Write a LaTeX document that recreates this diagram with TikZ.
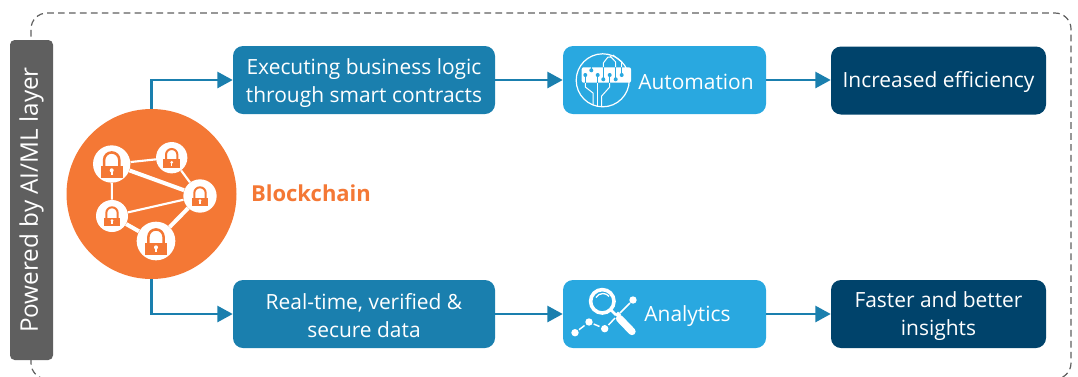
\documentclass[tikz,border=0pt]{standalone}
\usepackage{fontspec}
\setmainfont{Open Sans}
\usetikzlibrary{arrows.meta,calc}
\definecolor{teal}{HTML}{1A7FAE}
\definecolor{sky}{HTML}{29A8E0}
\definecolor{navy}{HTML}{00436B}
\definecolor{orng}{HTML}{F47835}
\definecolor{slate}{HTML}{5F5F5F}
\newcommand{\lockw}{1.9pt}
\tikzset{
  x=0.75pt,y=-0.75pt,
  lockwidth/.store in=\lockw,
  flowbox/.style={rounded corners=7.5pt,minimum height=51pt,inner sep=0pt},
  tealbox/.style={flowbox,fill=teal,minimum width=196.5pt},
  skybox/.style={flowbox,fill=sky,minimum width=152.25pt},
  navybox/.style={flowbox,fill=navy,minimum width=161.25pt},
  iconlabel/.style={inner sep=0pt,text=white,align=center,font=\fontsize{15.7}{21}\selectfont},
  flow/.style={draw=teal,line width=1.9pt,-{Triangle[length=11.5pt,width=12pt]}},
  hub/.style={circle,fill=orng,minimum size=127.5pt,inner sep=0pt},
  peer/.style={circle,fill=white,inner sep=0pt},
  thinlink/.style={draw=white,line width=1.6pt},
  thicklink/.style={draw=white,line width=3pt},
  trace/.style={draw=white,line width=0.75pt},
  lockicon/.pic={
    \fill[orng] (-11,2) rectangle (11,13.5);
    \draw[orng,line width=\lockw] (-7.6,3) -- (-7.6,-4) arc[start angle=180,end angle=360,radius=7.6] -- (7.6,3);
    \fill[white] (0,6.3) circle[radius=2];
    \fill[white] (-1,6.3) rectangle (1,11);
  }
}
\begin{document}
\begin{tikzpicture}
\useasboundingbox (0,0) rectangle (1078,376);
% dashed frame
\begin{scope}
\clip (0,0) rectangle (1078,376);
\draw[draw=slate,line width=0.9pt,dash pattern=on 5pt off 3.2pt,rounded corners=12pt]
  (100,379) -- (31,379) -- (31,13) -- (1071,13) -- (1071,379) -- (1000,379);
\end{scope}
% side bar
\node[fill=slate,rounded corners=3.5pt,minimum height=32.25pt,minimum width=240pt,inner sep=0pt,
  rotate=90,text=white,font=\fontsize{18.2}{20}\selectfont] (layer) at (31.5,200) {Powered by AI/ML layer};
% hub
\node[hub] (hub) at (151.5,194) {};
\node[inner sep=0pt,text=orng,font=\fontsize{16.5}{18}\bfseries\selectfont] (chain) at (311,193) {Blockchain};
\node[peer,minimum size=28pt] (pa) at (111.7,164) {};
\node[peer,minimum size=23.5pt] (pb) at (171.7,157.7) {};
\node[peer,minimum size=25pt] (pc) at (200,196) {};
\node[peer,minimum size=24pt] (pd) at (112,216) {};
\node[peer,minimum size=29pt] (pe) at (156,241) {};
\draw[thinlink] (pa) -- (pb);
\draw[thicklink] (pa) -- (pc);
\draw[thinlink] (pb) -- (pc);
\draw[thinlink] (pa) -- (pd);
\draw[thinlink] (pd) -- (pc);
\draw[thicklink] (pd) -- (pe);
\draw[thicklink] (pe) -- (pc);
\pic at (pa) {lockicon};
\pic[scale=0.75,lockwidth=1.5pt] at (pb) {lockicon};
\pic[scale=0.75,lockwidth=1.5pt] at (pc) {lockicon};
\pic[scale=0.75,lockwidth=1.5pt] at (pd) {lockicon};
\pic at (pe) {lockicon};
% boxes
\node[tealbox] (logic) at (364,80) {};
\node[skybox] (auto) at (664.5,80) {};
\node[navybox] (eff) at (938.5,80.5) {};
\node[tealbox] (data) at (364,314) {};
\node[skybox] (ana) at (664.5,314) {};
\node[navybox] (ins) at (938.5,314) {};
% box texts
\node[iconlabel] (logiclab) at (364,83) {Executing business logic\\through smart contracts};
\node[iconlabel] (autolab) at (696,82) {Automation};
\node[iconlabel] (efflab) at (938.5,82) {Increased efficiency};
\node[iconlabel] (datalab) at (364,316) {Real-time, verified \&\\secure data};
\node[iconlabel] (analab) at (687.5,316.5) {Analytics};
\node[iconlabel] (inslab) at (938.5,316) {Faster and better\\insights};
% connectors
\draw[flow] (hub.north) |- (logic.west);
\draw[flow] (hub.south) |- (data.west);
\draw[flow] (logic) -- (auto);
\draw[flow] (auto.east) -- (auto.east -| eff.west);
\draw[flow] (data) -- (ana);
\draw[flow] (ana) -- (ins);
% automation icon
\draw[white,line width=0.9pt] (602.7,80.3) circle[radius=26.5];
\fill[white,rounded corners=1.5pt] (581.7,67.3) rectangle (631,82.7);
\foreach \px/\py/\stem in {585.3/75/83,597.7/75/83,609.7/75/83,621.7/75/67,591.3/70.3/67,603.3/79.3/67,615.7/79.3/67}{
  \draw[sky,line width=0.8pt] (\px,\py) -- (\px,\stem);
  \fill[sky] (\px,\py) circle[radius=2];
}
\draw[trace] (585.3,83) -- (585.3,87) -- (593,93) -- (593,105);
\draw[trace] (597.7,83) -- (597.7,106);
\draw[trace] (609.7,83) -- (609.7,87) -- (601.7,96) -- (601.7,106);
\draw[trace] (603.3,67) -- (603.3,63) -- (608,57) -- (612,57);
\draw[trace] (615.7,67) -- (615.7,62) -- (610,56);
\draw[trace] (621.7,67) -- (621.7,62) -- (613,55);
% analytics icon
\draw[white,line width=2.7pt] (602.3,301.3) circle[radius=11.7];
\draw[white,line width=1pt] (596,297.5) arc[start angle=210,end angle=320,radius=8];
\draw[white,line width=5.5pt,line cap=round] (619.5,318.5) -- (632,331.5);
\draw[white,line width=2pt] (611,310) -- (616,315);
\fill[white] (615,314.5) -- (618,311.5) -- (621,314.5) -- (618,317.5) -- cycle;
\foreach \px/\py in {575/332.7,589/322,604.7/328.7,633/300}{\fill[white] (\px,\py) circle[radius=3.7];}
\draw[white,line width=1.1pt] (579,329.7) -- (584.5,325.5);
\draw[white,line width=1.1pt] (593.7,324) -- (599.5,326.5);
\draw[white,line width=1.1pt] (608.5,325) -- (615,318);
\draw[white,line width=1.1pt] (620,313) -- (630,303);
\end{tikzpicture}
\end{document}
